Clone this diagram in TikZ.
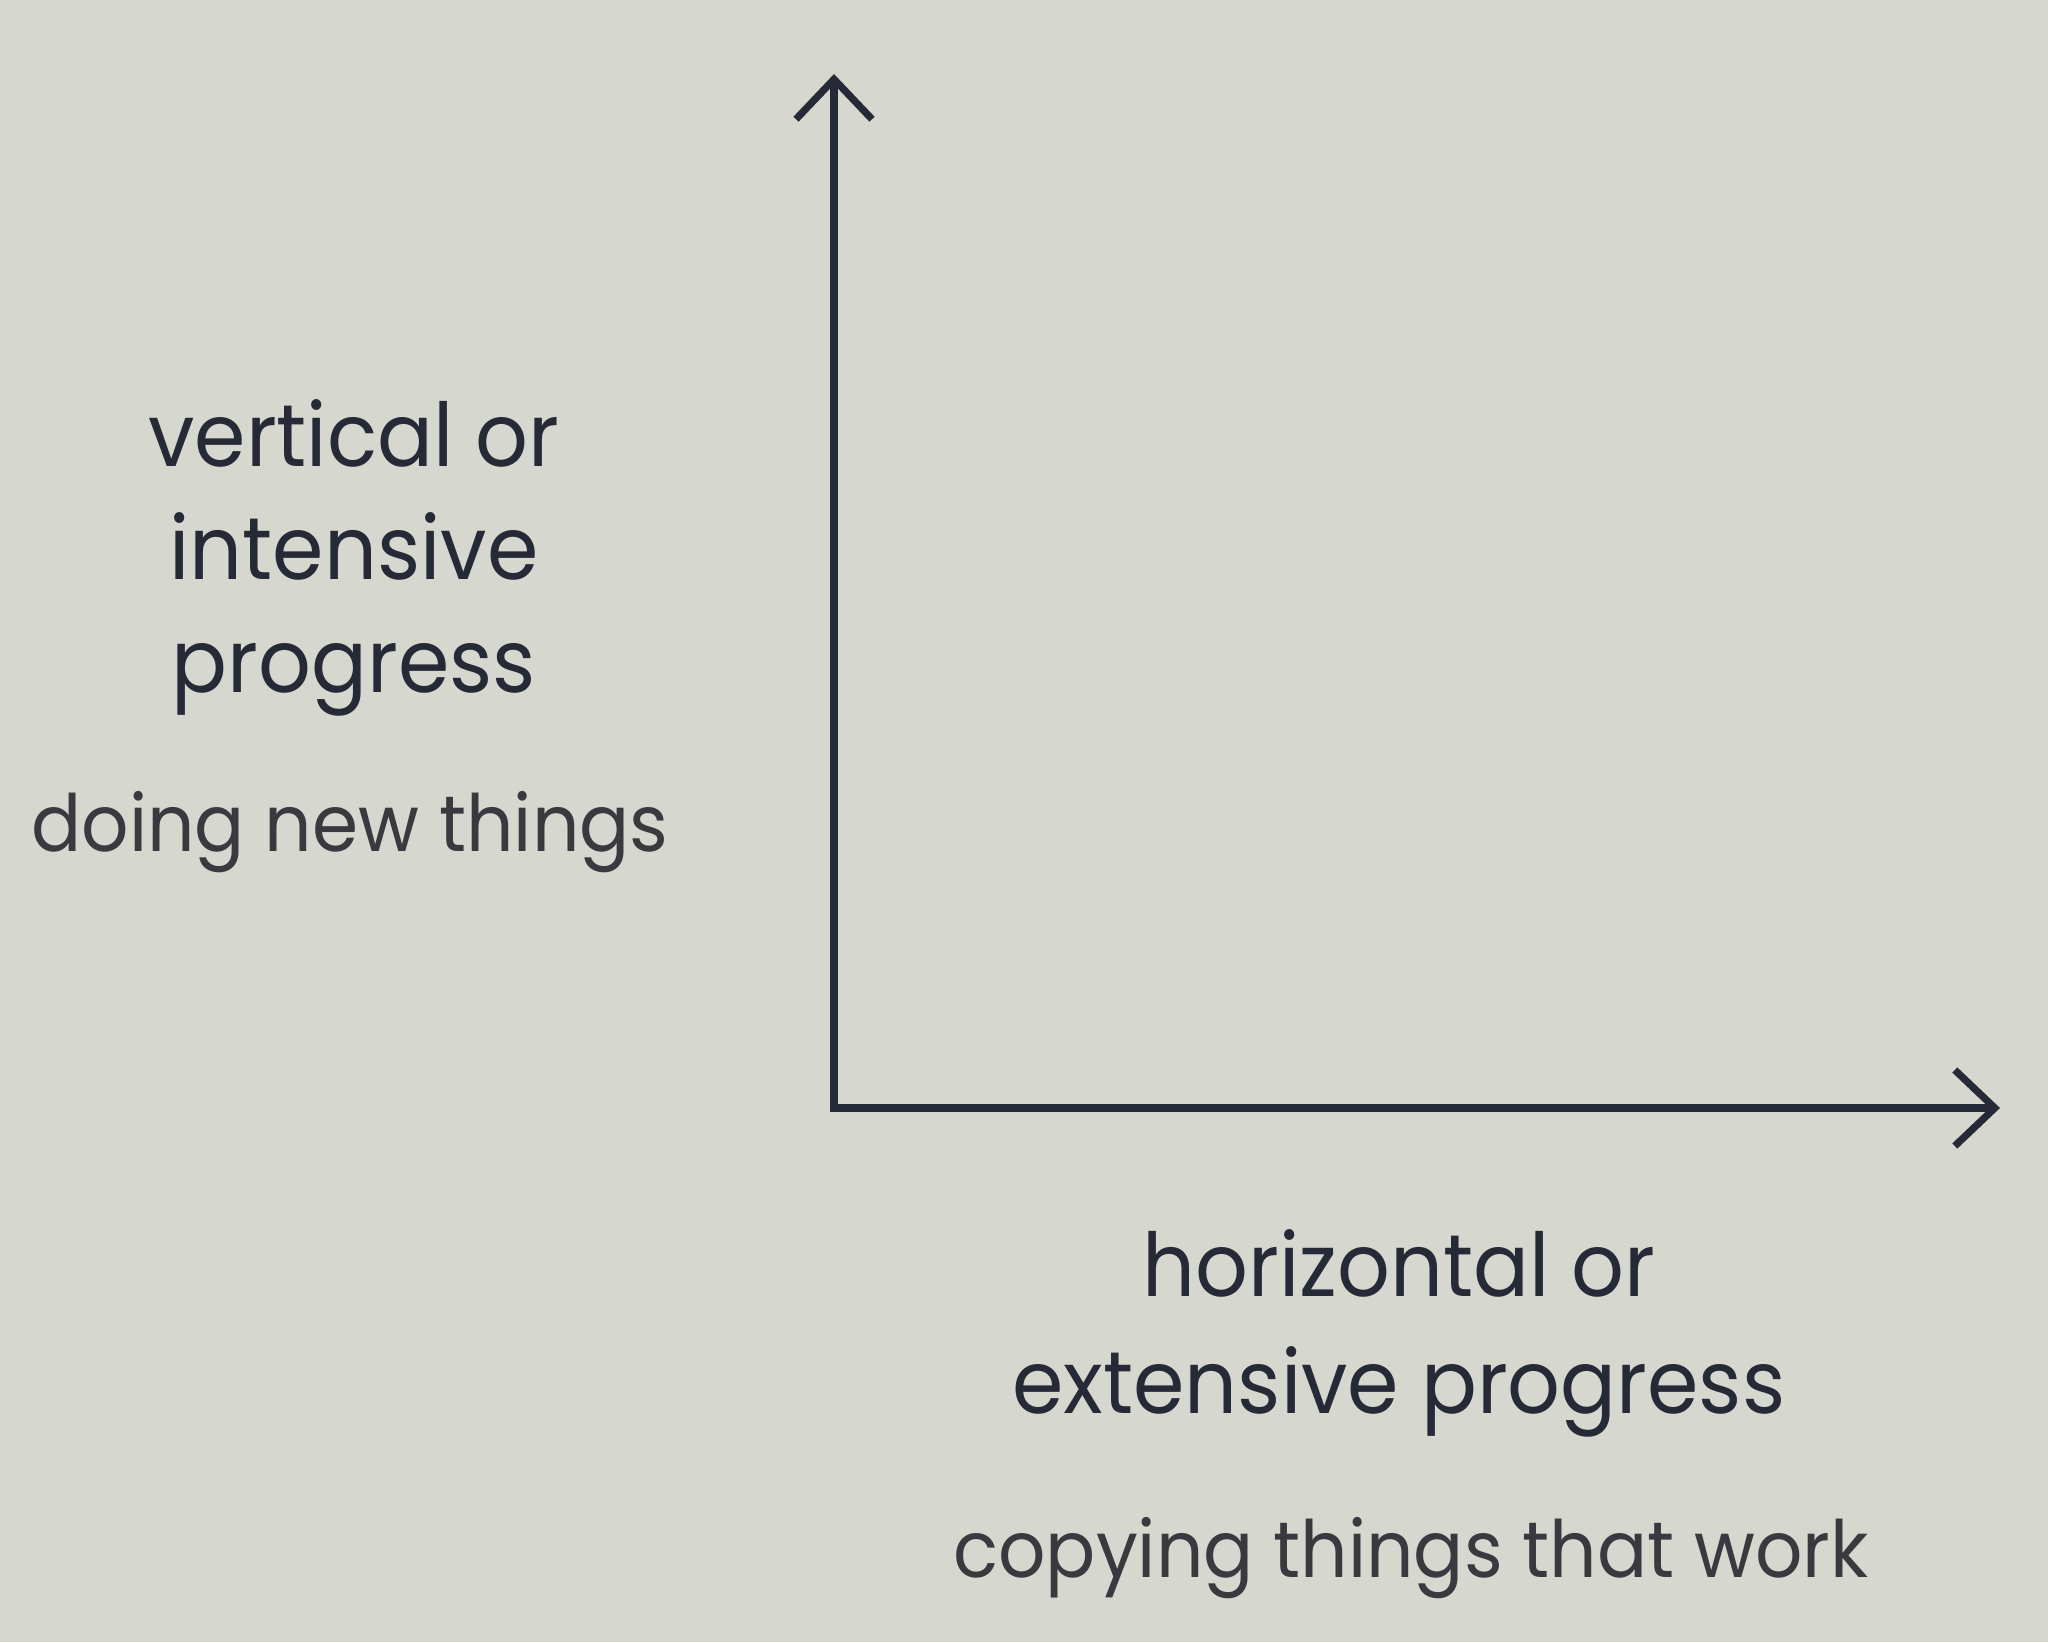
\documentclass[tikz,border=0pt]{standalone}
\usepackage{fontspec}
\setmainfont[FakeStretch=0.94]{Poppins}
\usetikzlibrary{arrows.meta}
\definecolor{paper}{HTML}{D6D7CF}
\definecolor{ink}{HTML}{262A36}
\definecolor{subink}{HTML}{383A40}
\begin{document}
\begin{tikzpicture}[x=0.5pt,y=-0.5pt,
  axis/.style={draw=ink,line width=3.6pt,line join=miter,
    arrows={Straight Barb[length=20pt,width=38pt,line width=3.6pt]-Straight Barb[length=20pt,width=38pt,line width=3.6pt]}},
  lab/.style={anchor=base,inner sep=0pt,text=ink,font=\fontsize{44}{56}\selectfont},
  sublab/.style={anchor=base,inner sep=0pt,text=subink,font=\fontsize{39.5}{50}\selectfont}]
\fill[paper] (0,0) rectangle (2048,1642);
\useasboundingbox (0,0) rectangle (2048,1642);
\coordinate (Y) at (834,74);
\coordinate (O) at (834,1108);
\coordinate (X) at (2000,1108);
\draw[axis] (Y) -- (O) -- (X);
\node[lab] (v1) at (354,466) {vertical or};
\node[lab] (v2) at (354,579) {intensive};
\node[lab] (v3) at (354,692) {progress};
\node[sublab] (vd) at (350,851) {doing new things};
\node[lab] (h1) at (1399,1296) {horizontal or};
\node[lab] (h2) at (1399,1413) {extensive progress};
\node[sublab] (hd) at (1411,1577) {copying things that work};
\end{tikzpicture}
\end{document}
